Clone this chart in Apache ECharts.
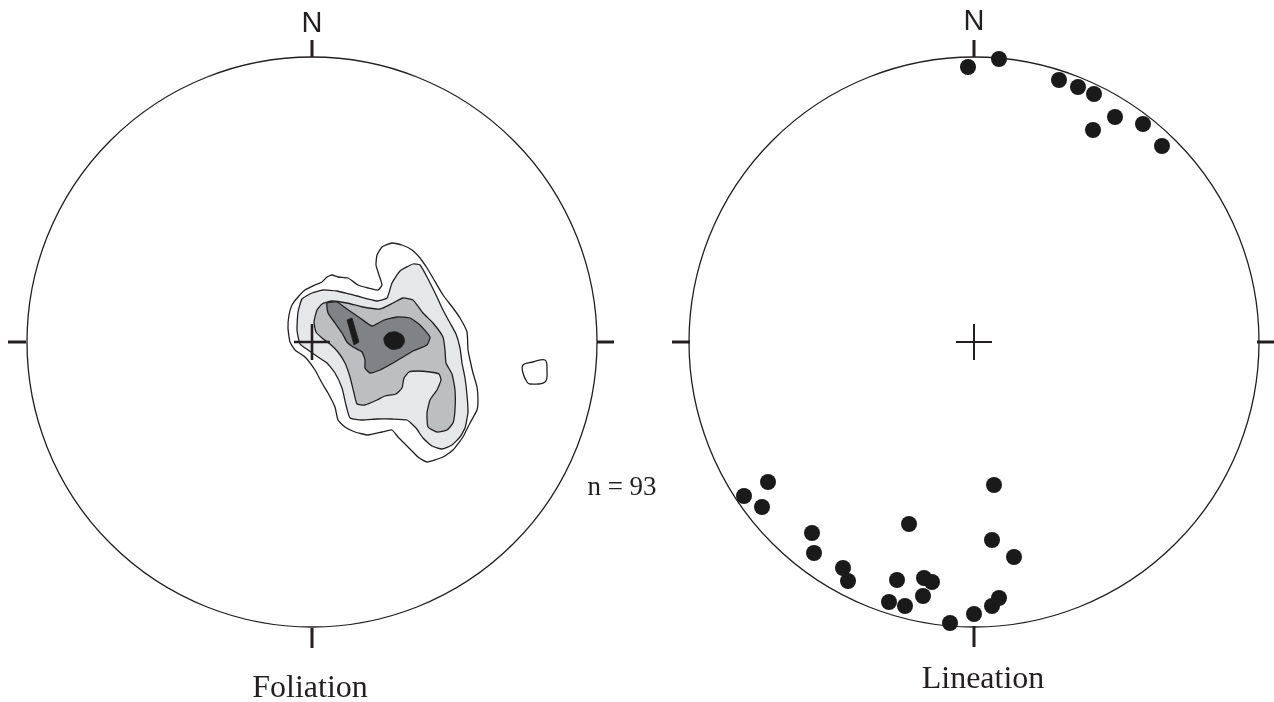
<!DOCTYPE html>
<html><head><meta charset="utf-8">
<script src="https://cdn.jsdelivr.net/npm/echarts@6/dist/echarts.min.js"></script>
<style>html,body{margin:0;padding:0;background:#fff}#c{width:1274px;height:702px}</style>
</head><body><div id="c"></div>
<script>
// Stereonet coordinates: origin at the net centre, y towards N, primitive radius = 285 units
const netRadius = 285;
const axisExtent = 285;

// Foliation density contours (poles), outermost level first
const foliationLevel1 = [[80,99],[90,97],[100,92],[108,84],[115,74],[121,64],[131,47],[141,34],[148,24],[155,10],[156,-8],[158,-18],[161,-31],[165,-45],[166,-58],[165,-68],[158,-81],[151,-95],[141,-108],[131,-115],[115,-120],[106,-115],[96,-105],[86,-95],[80,-88],[70,-90],[56,-93],[43,-90],[33,-85],[26,-78],[23,-65],[16,-51],[10,-41],[3,-28],[-7,-15],[-17,-8],[-22,0],[-24,14],[-23,27],[-20,37],[-14,45],[-7,52],[3,57],[10,60],[15,65],[20,67],[26,65],[36,64],[46,57],[56,54],[66,52],[70,57],[67,67],[64,77],[65,87],[70,95]];
const foliationLevel1b = [[211,-23],[221,-20],[233,-18],[235,-28],[233,-40],[218,-42],[215,-40],[211,-31]];
const foliationLevel2 = [[-14,30],[-10,43],[0,49],[11,52],[25,51],[45,46],[65,41],[75,44],[80,59],[88,71],[101,78],[108,77],[115,65],[125,45],[131,32],[138,19],[144,8],[148,-6],[150,-21],[153,-36],[155,-53],[156,-70],[153,-86],[148,-95],[140,-103],[130,-107],[120,-104],[111,-96],[104,-86],[95,-78],[80,-77],[65,-77],[50,-78],[38,-76],[34,-63],[30,-46],[23,-31],[15,-21],[6,-15],[-4,-8],[-12,-2],[-15,12]];
const foliationLevel3 = [[2,20],[5,32],[10,38],[20,41],[35,39],[51,35],[68,33],[81,39],[91,44],[101,42],[111,29],[121,19],[131,5],[133,-8],[134,-21],[140,-32],[143,-48],[143,-68],[141,-81],[135,-88],[125,-90],[116,-85],[115,-71],[118,-58],[125,-48],[129,-38],[127,-32],[118,-30],[106,-29],[97,-30],[92,-36],[90,-46],[84,-52],[73,-54],[65,-58],[53,-63],[45,-62],[42,-51],[38,-35],[33,-21],[26,-10],[18,-2],[10,4],[4,10]];
const foliationLevel4 = [[15,39],[25,40],[35,33],[48,24],[60,16],[72,22],[85,25],[98,24],[108,17],[118,5],[115,-3],[101,-9],[91,-15],[81,-21],[68,-28],[58,-31],[53,-26],[53,-18],[50,-10],[41,-5],[35,0],[30,9],[23,19],[16,29]];
const foliationLevel5a = [[35,22],[40,24],[47,0],[42,-3]];
const foliationLevel5b = [[72,1],[74,7],[80,10],[87,9],[92,4],[91,-3],[85,-7],[77,-6]];

// Lineation points
const lineationPoints = [[-6,275],[25,283],[85,262],[104,255],[120,248],[141,225],[119,212],[169,218],[188,196],
  [-206,-140],[-230,-154],[-212,-165],[-162,-191],[-160,-211],[-131,-226],[-126,-239],[-77,-238],[-50,-236],[-42,-240],
  [-65,-182],[-85,-260],[-69,-264],[-51,-254],[-24,-281],[0,-272],[18,-264],[25,-256],[20,-143],[18,-198],[40,-215]];

// Net decorations: tick marks [x1,y1,x2,y2] and centre cross arm length
const leftTicks = [[0,285,0,302],[0,-286,0,-306],[-304,0,-286,0],[285,0,302,0]];
const rightTicks = [[0,285,0,302],[0,-284,0,-305],[-302,0,-284,0],[283,0,300,0]];
const crossArm = 18;

// Texts
const northLabel = 'N';
const netTitles = ['Foliation', 'Lineation'];
const sampleLabel = 'n = 93';

// Styles (kept separate from data)
const contourPolys = [foliationLevel1, foliationLevel1b, foliationLevel2, foliationLevel3, foliationLevel4, foliationLevel5a, foliationLevel5b];
const contourFills = ['#ffffff', '#ffffff', '#e6e7e8', '#bcbec0', '#808285', '#1a1a1a', '#1a1a1a'];
const contourSmooth = [0.15, 0.4, 0.15, 0.15, 0.15, 0, 0.5];
const ink = '#231f20';

const chart = echarts.init(document.getElementById('c'));

function circleSeries(idx) {
  return {
    type: 'custom', xAxisIndex: idx, yAxisIndex: idx, silent: true, z: 5,
    data: [[0, 0]],
    renderItem: function (params, api) {
      const c = api.coord([0, 0]);
      const r = api.size([netRadius, 0])[0];
      return { type: 'circle', shape: { cx: c[0], cy: c[1], r: r }, style: { fill: 'none', stroke: ink, lineWidth: 1.3 } };
    }
  };
}
function tickSeries(idx, ticks, width) {
  return {
    type: 'custom', xAxisIndex: idx, yAxisIndex: idx, silent: true, z: 6, clip: false,
    data: ticks,
    renderItem: function (params, api) {
      const a = api.coord([api.value(0), api.value(1)]);
      const b = api.coord([api.value(2), api.value(3)]);
      return { type: 'line', shape: { x1: a[0], y1: a[1], x2: b[0], y2: b[1] }, style: { stroke: ink, lineWidth: width } };
    }
  };
}
function crossSeries(idx, width) {
  return {
    type: 'custom', xAxisIndex: idx, yAxisIndex: idx, silent: true, z: 7,
    data: [[0, 0]],
    renderItem: function (params, api) {
      const l = api.coord([-crossArm, 0]), r = api.coord([crossArm, 0]);
      const t = api.coord([0, crossArm]), b = api.coord([0, -crossArm]);
      return { type: 'group', children: [
        { type: 'line', shape: { x1: l[0], y1: l[1], x2: r[0], y2: r[1] }, style: { stroke: ink, lineWidth: width } },
        { type: 'line', shape: { x1: t[0], y1: t[1], x2: b[0], y2: b[1] }, style: { stroke: ink, lineWidth: width } }
      ] };
    }
  };
}

const axisCommon = { type: 'value', min: -axisExtent, max: axisExtent, show: false };

chart.setOption({
  animation: false,
  backgroundColor: '#ffffff',
  grid: [
    { left: 27, top: 57, width: 570, height: 570 },
    { left: 689, top: 57, width: 570, height: 570 }
  ],
  xAxis: [Object.assign({ gridIndex: 0 }, axisCommon), Object.assign({ gridIndex: 1 }, axisCommon)],
  yAxis: [Object.assign({ gridIndex: 0 }, axisCommon), Object.assign({ gridIndex: 1 }, axisCommon)],
  series: [
    {
      type: 'custom', xAxisIndex: 0, yAxisIndex: 0, silent: true, z: 3,
      data: contourPolys.map(p => p[0]),
      renderItem: function (params, api) {
        const i = params.dataIndex;
        const pts = contourPolys[i].map(p => api.coord(p));
        return { type: 'polygon', shape: { points: pts, smooth: contourSmooth[i] },
          style: { fill: contourFills[i], stroke: ink, lineWidth: i >= 5 ? 0.8 : 1.3 } };
      }
    },
    circleSeries(0), circleSeries(1),
    tickSeries(0, leftTicks, 3), tickSeries(1, rightTicks, 3),
    crossSeries(0, 2.6), crossSeries(1, 2),
    {
      type: 'scatter', xAxisIndex: 1, yAxisIndex: 1, clip: false, silent: true, z: 8,
      symbol: 'circle', symbolSize: 16,
      itemStyle: { color: '#1a1a1a', opacity: 1 },
      data: lineationPoints
    }
  ],
  graphic: [
    { type: 'text', x: 312, y: 24, style: { text: northLabel, font: '29px "Liberation Sans", Arial, sans-serif', fill: ink, align: 'center', verticalAlign: 'middle' } },
    { type: 'text', x: 974, y: 22, style: { text: northLabel, font: '29px "Liberation Sans", Arial, sans-serif', fill: ink, align: 'center', verticalAlign: 'middle' } },
    { type: 'text', x: 310, y: 689, style: { text: netTitles[0], font: '32px "Liberation Serif", "Times New Roman", serif', fill: ink, align: 'center', verticalAlign: 'middle' } },
    { type: 'text', x: 983, y: 680, style: { text: netTitles[1], font: '32px "Liberation Serif", "Times New Roman", serif', fill: ink, align: 'center', verticalAlign: 'middle' } },
    { type: 'text', x: 622, y: 488, style: { text: sampleLabel, font: '27px "Liberation Serif", "Times New Roman", serif', fill: ink, align: 'center', verticalAlign: 'middle' } }
  ]
});
</script>
</body></html>
